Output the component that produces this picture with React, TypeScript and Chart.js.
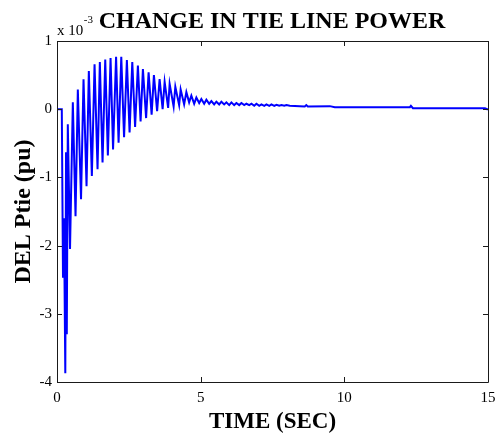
import React, { useEffect, useRef } from "react";
import { Chart, registerables } from "chart.js";

Chart.register(...registerables);

// Time of each read-off extreme / corner of the response (seconds)
const timeSec: number[] = [
  0, 0.167, 0.209, 0.244, 0.289, 0.314, 0.341, 0.376, 0.453, 0.551,
  0.645, 0.725, 0.836, 0.923, 1.028, 1.108, 1.213, 1.307, 1.411, 1.491,
  1.585, 1.679, 1.77, 1.864, 1.951, 2.056, 2.143, 2.237, 2.334, 2.432,
  2.526, 2.62, 2.718, 2.815, 2.909, 2.99, 3.101, 3.188, 3.293, 3.373,
  3.484, 3.571, 3.676, 3.746, 3.868, 3.92, 4.059, 4.118, 4.251, 4.303,
  4.425, 4.502, 4.599, 4.676, 4.774, 4.85, 4.948, 5.024, 5.122, 5.199,
  5.296, 5.373, 5.47, 5.547, 5.645, 5.721, 5.819, 5.895, 5.993, 6.07,
  6.167, 6.244, 6.341, 6.418, 6.516, 6.592, 6.69, 6.767, 6.864, 6.941,
  7.038, 7.115, 7.213, 7.289, 7.387, 7.463, 7.561, 7.638, 7.735, 7.812,
  7.909, 7.986, 8.101, 8.449, 8.624, 8.676, 8.728, 9.495, 9.669, 12.282,
  12.317, 12.387, 14.895, 14.965, 15.0,
];

// DEL Ptie values at those times (x 10^-3 pu)
const delPtie: number[] = [
  0, 0, -2.47, -1.6, -3.87, -0.63, -3.3, -0.22, -2.05, 0.1,
  -1.57, 0.29, -1.32, 0.44, -1.13, 0.56, -0.98, 0.66, -0.88, 0.69,
  -0.78, 0.73, -0.68, 0.75, -0.59, 0.77, -0.49, 0.77, -0.41, 0.72,
  -0.34, 0.69, -0.26, 0.64, -0.18, 0.59, -0.13, 0.54, -0.08, 0.5,
  -0.03, 0.44, 0.0, 0.4, 0.02, 0.37, 0.04, 0.33, 0.06, 0.29,
  0.07, 0.25, 0.1, 0.2, 0.08, 0.17, 0.09, 0.15, 0.08, 0.14,
  0.08, 0.12, 0.07, 0.11, 0.07, 0.11, 0.07, 0.1, 0.06, 0.1,
  0.06, 0.09, 0.06, 0.09, 0.06, 0.08, 0.06, 0.08, 0.05, 0.08,
  0.05, 0.07, 0.05, 0.07, 0.05, 0.07, 0.05, 0.065, 0.05, 0.06,
  0.05, 0.06, 0.05, 0.045, 0.04, 0.06, 0.04, 0.045, 0.03, 0.03,
  0.05, 0.015, 0.015, 0.0, 0.0,
];

const xTicks: number[] = [0, 5, 10, 15];
const yTicks: number[] = [-4, -3, -2, -1, 0, 1];

const chartTitle = "CHANGE IN TIE LINE POWER";
const xTitle = "TIME (SEC)";
const yTitle = "DEL Ptie (pu)";

const SERIF = "'Liberation Serif', 'Times New Roman', serif";

const framePlugin = {
  id: "matlabFrame",
  afterDraw(chart: any) {
    const { ctx, chartArea, scales } = chart;
    const { left, right, top, bottom } = chartArea;
    ctx.save();
    ctx.strokeStyle = "#1a1a1a";
    ctx.lineWidth = 1;
    ctx.beginPath();
    ctx.rect(Math.round(left) + 0.5, Math.round(top) + 0.5, Math.round(right - left), Math.round(bottom - top));
    ctx.stroke();
    const tl = 5;
    ctx.beginPath();
    xTicks.forEach((v) => {
      const px = Math.round(scales.x.getPixelForValue(v)) + 0.5;
      ctx.moveTo(px, bottom);
      ctx.lineTo(px, bottom - tl);
      ctx.moveTo(px, top);
      ctx.lineTo(px, top + tl);
    });
    yTicks.forEach((v) => {
      const py = Math.round(scales.y.getPixelForValue(v)) + 0.5;
      ctx.moveTo(left, py);
      ctx.lineTo(left + tl, py);
      ctx.moveTo(right, py);
      ctx.lineTo(right - tl, py);
    });
    ctx.stroke();

    // Title
    ctx.fillStyle = "#000";
    ctx.textBaseline = "alphabetic";
    ctx.textAlign = "center";
    ctx.font = `bold 24px ${SERIF}`;
    ctx.fillText(chartTitle, 272, 28);
    // exponent label
    ctx.textAlign = "left";
    ctx.font = `15px ${SERIF}`;
    ctx.fillText("x 10", 57, 35);
    const w = ctx.measureText("x 10").width;
    ctx.font = `11px ${SERIF}`;
    ctx.fillText("-3", 57 + w + 0.5, 23);
    ctx.restore();
  },
};

export default function App() {
  const ref = useRef<HTMLCanvasElement | null>(null);

  useEffect(() => {
    if (!ref.current) return;
    const points = timeSec.map((t, i) => ({ x: t, y: delPtie[i] }));
    const chart = new Chart(ref.current, {
      type: "line",
      data: {
        datasets: [
          {
            data: points,
            borderColor: "#0000ff",
            borderWidth: 2,
            pointRadius: 0,
            tension: 0,
            fill: false,
          },
        ],
      },
      options: {
        animation: false,
        responsive: false,
        devicePixelRatio: 1,
        layout: { padding: { top: 41, right: 8, left: 0, bottom: 0 } },
        plugins: {
          legend: { display: false },
          tooltip: { enabled: false },
          title: { display: false },
        },
        scales: {
          x: {
            type: "linear",
            min: 0,
            max: 15,
            afterBuildTicks: (s: any) => {
              s.ticks = xTicks.map((v) => ({ value: v }));
            },
            ticks: {
              color: "#000",
              font: { family: SERIF, size: 15 },
              padding: 7,
              maxRotation: 0,
              autoSkip: false,
            },
            grid: { display: false, drawTicks: false },
            border: { display: false },
            title: {
              display: true,
              text: xTitle,
              color: "#000",
              font: { family: SERIF, size: 23, weight: "bold", lineHeight: 1.05 },
              padding: 0,
            },
            afterFit: (s: any) => {
              s.height = 52;
              s.paddingLeft = 0;
              s.paddingRight = 0;
            },
          },
          y: {
            type: "linear",
            min: -4,
            max: 1,
            afterBuildTicks: (s: any) => {
              s.ticks = yTicks.map((v) => ({ value: v }));
            },
            ticks: {
              color: "#000",
              font: { family: SERIF, size: 15 },
              padding: 5,
              autoSkip: false,
            },
            grid: { display: false, drawTicks: false },
            border: { display: false },
            title: {
              display: true,
              text: yTitle,
              color: "#000",
              font: { family: SERIF, size: 24, weight: "bold" },
              padding: { top: 9, bottom: 0 },
            },
            afterFit: (s: any) => {
              s.width = 57;
              s.paddingTop = 0;
              s.paddingBottom = 0;
            },
          },
        },
      },
      plugins: [framePlugin],
    });
    return () => chart.destroy();
  }, []);

  return (
    <div style={{ position: "fixed", left: 0, top: 0, width: 496, height: 434, background: "#fff" }}>
      <canvas ref={ref} width={496} height={434} style={{ width: 496, height: 434 }} />
    </div>
  );
}
